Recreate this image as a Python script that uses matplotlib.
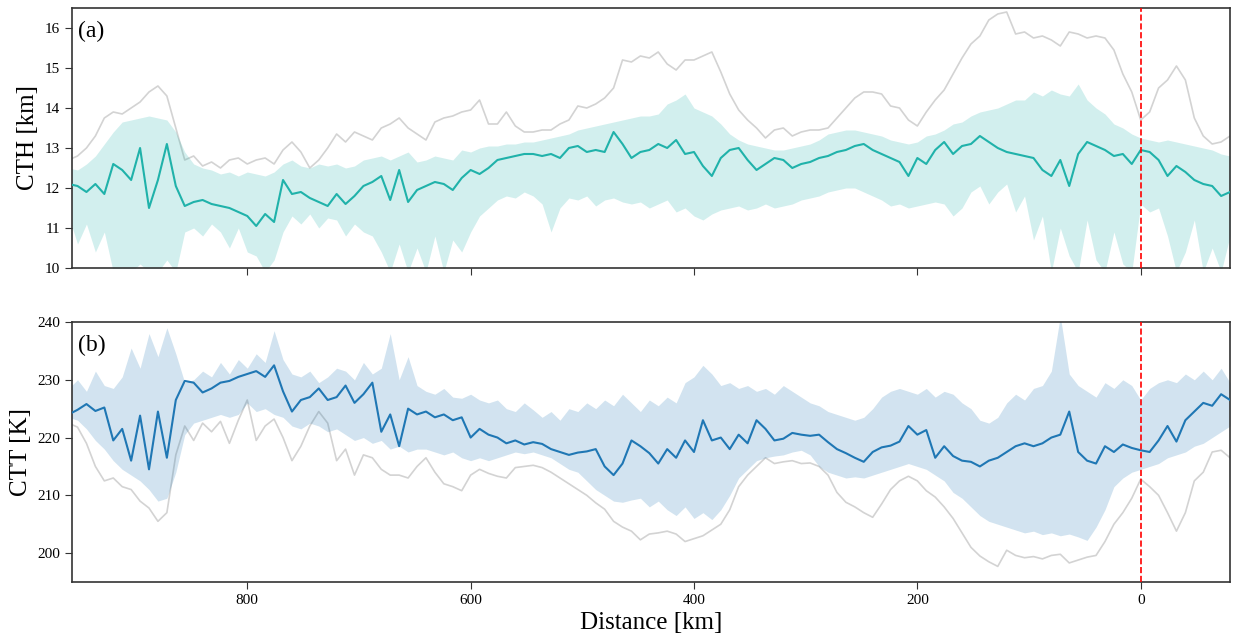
import numpy as np
import matplotlib.pyplot as plt

# distance grid [km], 8 km spacing
dist = np.arange(960, -81, -8)

# (a) cloud top height [km]
cth_max = [12.7, 12.8, 13.0, 13.3, 13.75, 13.9, 13.85, 14.0, 14.15, 14.4,
           14.55, 14.3, 13.5, 12.7, 12.8, 12.55, 12.65, 12.5, 12.7, 12.75,
           12.6, 12.7, 12.75, 12.6, 12.95, 13.15, 12.9, 12.5, 12.7, 13.0,
           13.35, 13.15, 13.4, 13.3, 13.2, 13.5, 13.6, 13.75, 13.5, 13.35,
           13.2, 13.65, 13.75, 13.8, 13.9, 13.95, 14.2, 13.6, 13.6, 13.9,
           13.55, 13.4, 13.4, 13.45, 13.45, 13.6, 13.7, 14.05, 14.0, 14.1,
           14.25, 14.5, 15.2, 15.15, 15.3, 15.25, 15.4, 15.1, 14.95, 15.2,
           15.2, 15.3, 15.4, 14.9, 14.35, 13.95, 13.7, 13.5, 13.25, 13.45,
           13.5, 13.3, 13.4, 13.45, 13.45, 13.5, 13.75, 14.0, 14.25, 14.4,
           14.4, 14.35, 14.05, 14.0, 13.7, 13.55, 13.9, 14.2, 14.45, 14.85,
           15.25, 15.6, 15.8, 16.2, 16.35, 16.4, 15.85, 15.9, 15.75, 15.8,
           15.7, 15.55, 15.9, 15.85, 15.75, 15.8, 15.75, 15.45, 14.85, 14.4,
           13.7, 13.9, 14.5, 14.7, 15.05, 14.7, 13.75, 13.3, 13.1, 13.15, 13.3]
cth_med = [12.1, 12.05, 11.9, 12.1, 11.85, 12.6, 12.45, 12.2, 13.0, 11.5,
           12.2, 13.1, 12.05, 11.55, 11.65, 11.7, 11.6, 11.55, 11.5, 11.4,
           11.3, 11.05, 11.35, 11.15, 12.2, 11.85, 11.9, 11.75, 11.65, 11.55,
           11.85, 11.6, 11.8, 12.05, 12.15, 12.3, 11.7, 12.45, 11.65, 11.95,
           12.05, 12.15, 12.1, 11.95, 12.25, 12.45, 12.35, 12.5, 12.7, 12.75,
           12.8, 12.85, 12.85, 12.8, 12.85, 12.75, 13.0, 13.05, 12.9, 12.95,
           12.9, 13.4, 13.1, 12.75, 12.9, 12.95, 13.1, 13.0, 13.2, 12.85,
           12.9, 12.55, 12.3, 12.75, 12.95, 13.0, 12.7, 12.45, 12.6, 12.75,
           12.7, 12.5, 12.6, 12.65, 12.75, 12.8, 12.9, 12.95, 13.05, 13.1,
           12.95, 12.85, 12.75, 12.65, 12.3, 12.75, 12.6, 12.95, 13.15, 12.85,
           13.05, 13.1, 13.3, 13.15, 13.0, 12.9, 12.85, 12.8, 12.75, 12.45,
           12.3, 12.7, 12.05, 12.85, 13.15, 13.05, 12.95, 12.8, 12.85, 12.6,
           12.95, 12.9, 12.7, 12.3, 12.55, 12.4, 12.2, 12.1, 12.05, 11.8, 11.9]
cth_hi = [12.5, 12.45, 12.6, 12.8, 13.1, 13.4, 13.65, 13.7, 13.75, 13.8,
          13.75, 13.7, 13.4, 12.9, 12.6, 12.5, 12.45, 12.35, 12.4, 12.3,
          12.4, 12.35, 12.3, 12.4, 12.6, 12.7, 12.55, 12.5, 12.6, 12.55,
          12.6, 12.5, 12.55, 12.7, 12.75, 12.8, 12.7, 12.8, 12.9, 12.65,
          12.7, 12.8, 12.75, 12.7, 12.95, 12.9, 13.0, 13.05, 13.05, 13.1,
          13.1, 13.15, 13.15, 13.2, 13.25, 13.3, 13.35, 13.45, 13.5, 13.55,
          13.6, 13.65, 13.7, 13.75, 13.8, 13.8, 13.85, 14.1, 14.2, 14.35,
          14.0, 13.9, 13.8, 13.6, 13.35, 13.2, 13.1, 13.05, 13.0, 12.95,
          12.95, 13.0, 13.05, 13.1, 13.2, 13.35, 13.4, 13.45, 13.45, 13.4,
          13.35, 13.3, 13.2, 13.15, 13.1, 13.15, 13.3, 13.35, 13.45, 13.6,
          13.65, 13.8, 13.9, 13.95, 14.0, 14.1, 14.2, 14.2, 14.4, 14.3,
          14.45, 14.35, 14.3, 14.6, 14.2, 14.0, 13.85, 13.6, 13.5, 13.35,
          13.25, 13.2, 13.15, 13.2, 13.15, 13.1, 13.05, 13.0, 12.95, 12.85, 12.8]
cth_lo = [11.3, 10.6, 11.1, 10.4, 10.9, 9.9, 10.0, 9.9, 10.1, 9.9,
          9.9, 10.2, 9.9, 10.9, 11.0, 10.8, 11.1, 10.9, 10.5, 11.0,
          10.4, 10.3, 9.9, 10.2, 10.9, 11.3, 11.1, 11.35, 11.0, 11.25,
          11.2, 10.8, 11.1, 10.9, 10.8, 10.4, 9.9, 10.6, 9.9, 10.5,
          9.9, 10.8, 9.9, 10.7, 10.4, 10.9, 11.3, 11.5, 11.7, 11.8,
          11.75, 11.9, 11.8, 11.6, 10.9, 11.5, 11.75, 11.7, 11.8, 11.55,
          11.7, 11.75, 11.65, 11.6, 11.65, 11.5, 11.6, 11.7, 11.4, 11.5,
          11.3, 11.2, 11.35, 11.45, 11.5, 11.55, 11.45, 11.5, 11.6, 11.5,
          11.55, 11.6, 11.7, 11.75, 11.8, 11.9, 11.95, 12.0, 12.0, 11.9,
          11.8, 11.7, 11.55, 11.6, 11.5, 11.55, 11.6, 11.65, 11.6, 11.3,
          11.5, 11.9, 12.05, 11.6, 11.9, 12.1, 11.4, 11.8, 10.7, 11.3,
          9.9, 11.0, 10.3, 9.9, 11.2, 10.2, 9.9, 10.9, 10.1, 9.9,
          11.6, 11.4, 11.5, 10.8, 9.9, 10.4, 11.2, 9.9, 10.5, 9.9, 10.8]

# (b) cloud top temperature [K]
ctt_min = [222.5, 221.8, 219.0, 215.0, 212.5, 213.0, 211.5, 211.0, 209.0, 207.8,
           205.5, 207.0, 217.0, 222.0, 219.5, 222.5, 221.0, 222.8, 219.0, 223.0,
           226.5, 219.5, 222.0, 223.2, 220.0, 216.0, 218.5, 222.0, 224.5, 222.5,
           216.0, 218.0, 213.5, 217.0, 216.5, 214.5, 213.5, 213.5, 213.0, 215.0,
           216.5, 214.0, 212.0, 211.5, 210.8, 213.5, 214.5, 213.8, 213.3, 213.0,
           214.8, 215.0, 215.2, 214.8, 214.0, 213.0, 212.0, 211.0, 210.0, 208.7,
           207.6, 205.5, 204.5, 203.8, 202.3, 203.3, 203.5, 203.8, 203.3, 202.0,
           202.5, 203.0, 204.0, 205.0, 207.5, 211.5, 213.5, 215.0, 216.5, 215.5,
           215.8, 216.0, 215.5, 215.6, 215.0, 213.5, 210.5, 208.8, 208.0, 207.0,
           206.2, 208.5, 211.0, 212.5, 213.3, 212.5, 210.8, 209.7, 208.0, 206.0,
           203.5, 201.0, 199.5, 198.5, 197.7, 200.5, 199.6, 199.2, 199.4, 199.0,
           199.6, 199.8, 198.3, 198.8, 199.3, 199.6, 202.0, 205.0, 207.0, 209.5,
           212.8, 211.5, 210.0, 207.0, 203.8, 207.0, 212.5, 214.0, 217.5, 217.8, 216.5]
ctt_med = [224.0, 224.8, 225.8, 224.6, 225.2, 219.5, 221.5, 216.0, 223.8, 214.5,
           224.5, 216.5, 226.5, 229.8, 229.5, 227.8, 228.5, 229.5, 229.8, 230.5,
           231.0, 231.5, 230.5, 232.5, 228.0, 224.5, 226.5, 227.0, 228.5, 226.5,
           227.0, 229.0, 226.0, 227.5, 229.5, 221.0, 224.0, 218.5, 225.0, 224.0,
           224.5, 223.5, 224.0, 223.0, 223.5, 220.0, 221.5, 220.5, 220.0, 219.0,
           219.5, 218.8, 219.2, 218.9, 218.0, 217.5, 217.0, 217.4, 217.6, 218.0,
           215.0, 213.5, 215.5, 219.5, 218.5, 217.3, 215.5, 218.0, 216.5, 219.5,
           217.5, 223.0, 219.5, 220.0, 218.0, 220.5, 219.0, 223.0, 221.5, 219.5,
           219.8, 220.8, 220.5, 220.3, 220.5, 219.2, 218.0, 217.3, 216.5, 215.8,
           217.5, 218.3, 218.6, 219.3, 222.0, 220.5, 221.3, 216.5, 218.5, 216.8,
           216.0, 215.8, 215.0, 216.0, 216.5, 217.5, 218.5, 219.0, 218.5, 219.0,
           220.0, 220.5, 224.5, 217.5, 216.0, 215.5, 218.5, 217.5, 218.8, 218.2,
           217.8, 217.5, 219.5, 222.0, 219.3, 223.0, 224.5, 226.0, 225.5, 227.5, 226.5]
ctt_hi = [228.5, 230.0, 228.0, 231.5, 229.0, 228.5, 230.5, 235.5, 232.0, 238.0,
          234.0, 239.0, 234.5, 229.5, 230.0, 231.5, 230.5, 233.0, 231.0, 233.5,
          232.0, 234.5, 233.0, 238.5, 233.5, 231.0, 230.5, 231.5, 229.5, 230.5,
          232.0, 231.5, 230.0, 233.0, 231.0, 232.0, 238.0, 230.0, 234.0, 229.0,
          228.0, 227.5, 228.5, 227.0, 226.8, 227.5, 226.5, 226.0, 226.5, 225.0,
          224.5, 226.0, 224.8, 223.5, 224.5, 223.0, 225.0, 224.5, 226.0, 225.0,
          226.5, 225.5, 227.5, 226.0, 224.5, 226.5, 225.5, 227.0, 226.0, 229.5,
          230.5, 232.5, 231.0, 229.0, 229.5, 228.5, 229.0, 228.0, 228.5, 227.5,
          229.0, 228.0, 227.0, 226.0, 225.5, 224.5, 224.0, 223.5, 223.0, 223.5,
          225.0, 227.0, 228.0, 228.5, 228.0, 227.5, 228.5, 227.0, 228.0, 227.5,
          226.0, 225.0, 223.0, 222.5, 223.5, 226.0, 227.5, 226.5, 228.5, 229.0,
          231.5, 241.0, 231.0, 229.0, 228.0, 227.0, 229.5, 228.5, 230.0, 229.0,
          226.5, 228.5, 229.5, 230.0, 229.5, 231.0, 230.0, 231.5, 230.0, 232.0, 229.5]
ctt_lo = [223.5, 223.0, 221.5, 219.5, 218.0, 216.0, 214.5, 213.5, 212.5, 211.0,
          209.0, 209.5, 214.0, 220.5, 222.5, 223.0, 223.5, 224.0, 223.5, 224.0,
          226.0, 224.5, 225.0, 224.0, 223.5, 222.0, 221.5, 222.5, 222.0, 221.0,
          221.5, 220.5, 219.5, 220.0, 219.0, 219.5, 218.0, 218.5, 217.5, 218.0,
          218.0, 217.5, 217.0, 217.5, 216.5, 216.0, 216.5, 216.0, 216.5, 217.0,
          217.5, 217.2, 217.5, 217.0, 216.5, 215.5, 214.5, 214.0, 212.5, 211.0,
          210.0, 209.0, 208.8, 209.2, 209.5, 208.0, 209.0, 207.5, 206.5, 208.0,
          206.0, 207.0, 205.8, 207.5, 210.0, 213.0, 214.5, 216.0, 216.5, 216.8,
          217.0, 217.5, 217.8, 217.0, 215.0, 214.0, 213.5, 213.0, 213.2, 213.0,
          213.5, 214.0, 214.5, 215.0, 215.5, 215.0, 214.5, 213.5, 212.5, 210.5,
          209.5, 208.0, 206.5, 205.5, 205.0, 204.5, 204.0, 203.5, 203.8, 203.2,
          203.5, 203.0, 203.3, 202.8, 202.2, 204.5, 207.5, 211.5, 213.0, 214.0,
          214.5, 215.0, 215.5, 216.5, 217.0, 217.5, 218.5, 219.0, 220.0, 221.0, 222.0]

plt.rcParams['font.family'] = ['Liberation Serif', 'DejaVu Serif']

fig = plt.figure(figsize=(12.34, 6.39), dpi=100)
ax1 = fig.add_axes([0.0583, 0.5806, 0.9385, 0.4069])
ax2 = fig.add_axes([0.0583, 0.0892, 0.9385, 0.4069], sharex=ax1)

teal = 'lightseagreen'
blue = '#1f77b4'

ax1.plot(dist, cth_max, color='lightgray', lw=1.2, zorder=1)
ax1.fill_between(dist, cth_lo, cth_hi, color=teal, alpha=0.2, lw=0, zorder=2)
ax1.plot(dist, cth_med, color=teal, lw=1.5, zorder=3)

ax2.plot(dist, ctt_min, color='lightgray', lw=1.2, zorder=1)
ax2.fill_between(dist, ctt_lo, ctt_hi, color=blue, alpha=0.2, lw=0, zorder=2)
ax2.plot(dist, ctt_med, color=blue, lw=1.5, zorder=3)

for ax in (ax1, ax2):
    ax.axvline(0, color='red', ls='--', lw=1.2, zorder=4)
    for s in ax.spines.values():
        s.set_color('#333333')
        s.set_linewidth(1.2)
    ax.tick_params(labelsize=11, length=5, color='#333333')

ax1.set_xlim(957, -80)
ax1.set_xticks([800, 600, 400, 200, 0])
ax1.set_ylim(10, 16.5)
ax1.set_yticks([10, 11, 12, 13, 14, 15, 16])
ax1.tick_params(labelbottom=False)
ax1.set_ylabel('CTH [km]', fontsize=18)
ax1.text(0.005, 0.95, '(a)', transform=ax1.transAxes, fontsize=17, va='top')

ax2.set_ylim(195, 240)
ax2.set_yticks([200, 210, 220, 230, 240])
ax2.set_ylabel('CTT [K]', fontsize=18)
ax2.set_xlabel('Distance [km]', fontsize=18)
ax2.text(0.005, 0.95, '(b)', transform=ax2.transAxes, fontsize=17, va='top')

fig.savefig('out.png', dpi=100)
